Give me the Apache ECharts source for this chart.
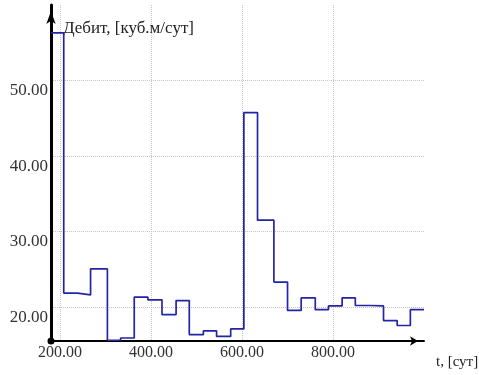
<!DOCTYPE html>
<html lang="ru">

<head>
    <meta charset="UTF-8">
    <title>Дебит</title>
    <script src="https://cdn.jsdelivr.net/npm/echarts@6/dist/echarts.min.js"></script>
</head>

<body style="margin:0;background:#fff;">
    <div id="chart" style="width:479px;height:375px;"></div>
    <script>
        // начало каждого интервала, сут
        var stepStart = [180, 208, 238, 267, 304, 333, 363, 393, 424, 455, 484, 515, 544, 575,
            604, 634, 670, 700, 730, 761, 790, 820, 849, 882, 911, 941, 970];
        var endDay = 1000;
        // дебит на интервале, куб.м/сут
        var rate = [56.3, 21.85, 21.6, 25.05, 15.6, 15.9, 21.3, 20.95, 19.0, 20.85, 16.35, 16.85, 16.1, 17.1,
            45.75, 31.5, 23.3, 19.55, 21.2, 19.65, 20.15, 21.2, 20.2, 20.15, 18.2, 17.55, 19.65];
        var xRange = [180, 1000];
        var yRange = [15.5, 60];

        var points = stepStart.map(function (t, i) {
            return [t, rate[i]];
        });
        points.push([endDay, rate[rate.length - 1]]);

        var font = "'Liberation Serif', 'DejaVu Serif', serif";
        var chart = echarts.init(document.getElementById("chart"));

        chart.setOption({
            animation: false,
            grid: { left: 51, right: 55, top: 5, bottom: 34, outerBoundsMode: "none" },
            xAxis: {
                type: "value",
                min: xRange[0],
                max: xRange[1],
                name: "t, [сут]",
                nameLocation: "end",
                nameGap: 12,
                nameTextStyle: { fontFamily: font, fontSize: 15, color: "#222", verticalAlign: "top", padding: [14, 0, 0, 0] },
                axisLine: {
                    symbol: ["circle", "arrow"],
                    symbolSize: [7, 8],
                    symbolOffset: [0, -6],
                    lineStyle: { color: "#000", width: 2 }
                },
                axisTick: { show: false },
                axisLabel: {
                    showMinLabel: false,
                    showMaxLabel: false,
                    margin: 4,
                    fontFamily: font,
                    fontSize: 16,
                    color: "#333",
                    formatter: function (v) { return v.toFixed(2); }
                },
                splitLine: {
                    show: true,
                    showMinLine: false,
                    showMaxLine: false,
                    lineStyle: { color: "#c4c4c4", type: "dotted", width: 1 }
                }
            },
            yAxis: {
                type: "value",
                min: yRange[0],
                max: yRange[1],
                name: "Дебит, [куб.м/сут]",
                nameLocation: "end",
                nameGap: -32,
                nameTextStyle: { fontFamily: font, fontSize: 17, color: "#222", align: "left", padding: [0, 0, 0, 12] },
                axisLine: {
                    symbol: ["none", "arrow"],
                    symbolSize: [7, 13],
                    symbolOffset: [0, -6],
                    lineStyle: { color: "#000", width: 3 }
                },
                axisTick: { show: false },
                axisLabel: {
                    showMinLabel: false,
                    showMaxLabel: false,
                    margin: 3,
                    fontFamily: font,
                    fontSize: 17,
                    color: "#333",
                    verticalAlign: "top",
                    padding: [2, 0, 0, 0],
                    formatter: function (v) { return v.toFixed(2); }
                },
                splitLine: {
                    show: true,
                    showMinLine: false,
                    showMaxLine: false,
                    lineStyle: { color: "#c4c4c4", type: "dotted", width: 1 }
                }
            },
            series: [
                {
                    type: "line",
                    step: "end",
                    data: points,
                    showSymbol: false,
                    lineStyle: { color: "#2424a8", width: 1.7 }
                }
            ]
        });
    </script>
</body>

</html>
